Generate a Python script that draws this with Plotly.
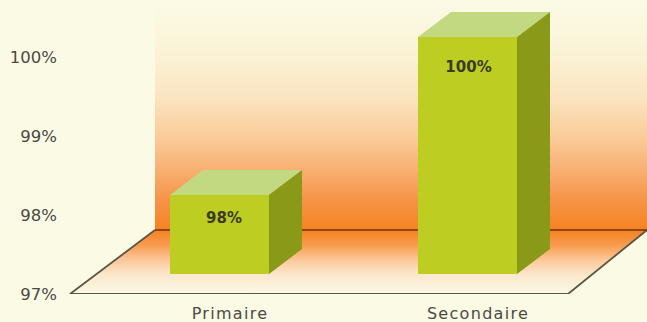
import plotly.graph_objects as go

categories = ["Primaire", "Secondaire"]
values = [98, 100]
value_labels = ["98%", "100%"]
label_heights = [97.95, 99.86]
label_nudges_px = [4.5, 1.0]
y_ticks = [97, 98, 99, 100]
y_tick_labels = ["97%", "98%", "99%", "100%"]

W, H = 647, 322
PX_PER_CAT, PX_PER_UNIT = 248.0, 79.0
L, B = 62, 28
CAT0_PX = 230
BASE = 97
X_RANGE = [(L - CAT0_PX) / PX_PER_CAT, (W - CAT0_PX) / PX_PER_CAT]
Y_RANGE = [BASE, BASE + (H - B) / PX_PER_UNIT]

def cx(px):
    return (px - CAT0_PX) / PX_PER_CAT

def vy(px_above_floor):
    return BASE + px_above_floor / PX_PER_UNIT

# 3-D look (axis units)
bar_w = 99 / PX_PER_CAT
bar_shift = -10.5 / PX_PER_CAT
bar_lift = 20 / PX_PER_UNIT
depth_x = 33 / PX_PER_CAT
depth_y = 25 / PX_PER_UNIT
floor_back = vy(64)
floor_front_l, floor_front_r = cx(70), cx(568)
floor_back_l, floor_back_r = cx(155), cx(647)

BG = "#FBFAE4"
FRONT, TOP, SIDE = "#BDCD22", "#C2D981", "#8A9A18"
EDGE = "#5A5644"
TEXT = "#4A4A44"

fig = go.Figure()

# back wall
fig.add_trace(go.Scatter(
    x=[floor_back_l, floor_back_r, floor_back_r, floor_back_l],
    y=[floor_back, floor_back, Y_RANGE[1], Y_RANGE[1]],
    mode="lines", line=dict(width=0), fill="toself", hoverinfo="skip",
    fillgradient=dict(type="vertical", start=floor_back, stop=Y_RANGE[1], colorscale=[
        [0.0, "#F58220"], [0.05, "#F68930"], [0.13, "#F69448"], [0.26, "#F8AF72"],
        [0.4, "#FACB98"], [0.565, "#FBE3BE"], [0.74, "#FBF1D4"], [0.91, "#FBF8E0"], [1.0, BG]]),
    showlegend=False))

# floor
fig.add_trace(go.Scatter(
    x=[floor_front_l, floor_front_r, floor_back_r, floor_back_l, floor_front_l],
    y=[BASE, BASE, floor_back, floor_back, BASE],
    mode="lines", line=dict(width=0), fill="toself", hoverinfo="skip",
    fillgradient=dict(type="vertical", start=BASE, stop=floor_back, colorscale=[
        [0.0, BG], [0.06, "#FAF6E0"], [0.3, "#FBE8CC"], [0.53, "#FBC89A"],
        [0.77, "#F89A4D"], [1.0, "#F58220"]]),
    showlegend=False))

# floor outline
fig.add_trace(go.Scatter(
    x=[floor_back_r, floor_front_r, floor_front_l, floor_back_l],
    y=[floor_back, BASE, BASE, floor_back],
    mode="lines", line=dict(color=EDGE, width=1.8), hoverinfo="skip",
    cliponaxis=False, showlegend=False))
fig.add_trace(go.Scatter(
    x=[floor_back_l, floor_back_r], y=[floor_back, floor_back],
    mode="lines", line=dict(color="#6E3010", width=1.6), hoverinfo="skip",
    showlegend=False))

# bar fronts
fig.add_trace(go.Bar(
    x=list(range(len(categories))),
    y=[v - BASE for v in values],
    base=BASE + bar_lift,
    width=bar_w, offset=bar_shift - bar_w / 2,
    marker=dict(color=FRONT, line=dict(width=0)),
    xaxis="x2", yaxis="y2", showlegend=False, hoverinfo="skip"))

# bar tops and sides
for i, v in enumerate(values):
    x0 = i + bar_shift - bar_w / 2
    x1 = x0 + bar_w
    y0 = BASE + bar_lift
    y1 = v + bar_lift
    fig.add_trace(go.Scatter(
        x=[x0, x1, x1 + depth_x, x0 + depth_x, x0],
        y=[y1, y1, y1 + depth_y, y1 + depth_y, y1],
        mode="lines", line=dict(width=0), fill="toself", fillcolor=TOP,
        xaxis="x2", yaxis="y2", showlegend=False, hoverinfo="skip", cliponaxis=False))
    fig.add_trace(go.Scatter(
        x=[x1, x1 + depth_x, x1 + depth_x, x1, x1],
        y=[y0, y0 + depth_y, y1 + depth_y, y1, y0],
        mode="lines", line=dict(width=0), fill="toself", fillcolor=SIDE,
        xaxis="x2", yaxis="y2", showlegend=False, hoverinfo="skip", cliponaxis=False))

# value labels
fig.add_trace(go.Scatter(
    x=[i + n / PX_PER_CAT + bar_shift for i, n in enumerate(label_nudges_px)],
    y=label_heights, text=value_labels, mode="text",
    textfont=dict(family="DejaVu Sans", size=15, color="#3A3A28", weight="bold"),
    xaxis="x2", yaxis="y2", showlegend=False, hoverinfo="skip"))

fig.update_layout(
    width=W, height=H, autosize=False,
    margin=dict(l=L, r=0, t=0, b=B),
    paper_bgcolor=BG, plot_bgcolor=BG,
    xaxis=dict(range=X_RANGE, tickvals=list(range(len(categories))), ticktext=categories,
               showgrid=False, zeroline=False, showline=False, ticks="",
               ticklabelstandoff=8,
               tickfont=dict(family="DejaVu Sans", size=16, color=TEXT), fixedrange=True),
    yaxis=dict(range=Y_RANGE, tickvals=y_ticks, ticktext=y_tick_labels,
               showgrid=False, zeroline=False, showline=False, ticks="",
               ticklabelstandoff=4,
               tickfont=dict(family="DejaVu Sans", size=16.5, color=TEXT), fixedrange=True),
    xaxis2=dict(range=X_RANGE, overlaying="x", visible=False, fixedrange=True),
    yaxis2=dict(range=Y_RANGE, overlaying="y", visible=False, fixedrange=True),
)

fig.write_html("out.html", config={"displayModeBar": False},
               post_script="document.documentElement.style.overflow='hidden';"
                           "document.body.style.margin='0';"
                           "document.body.style.background='" + BG + "';"
                           "document.querySelectorAll('.xtick text').forEach(function(t){t.style.letterSpacing='1.3px';});")
